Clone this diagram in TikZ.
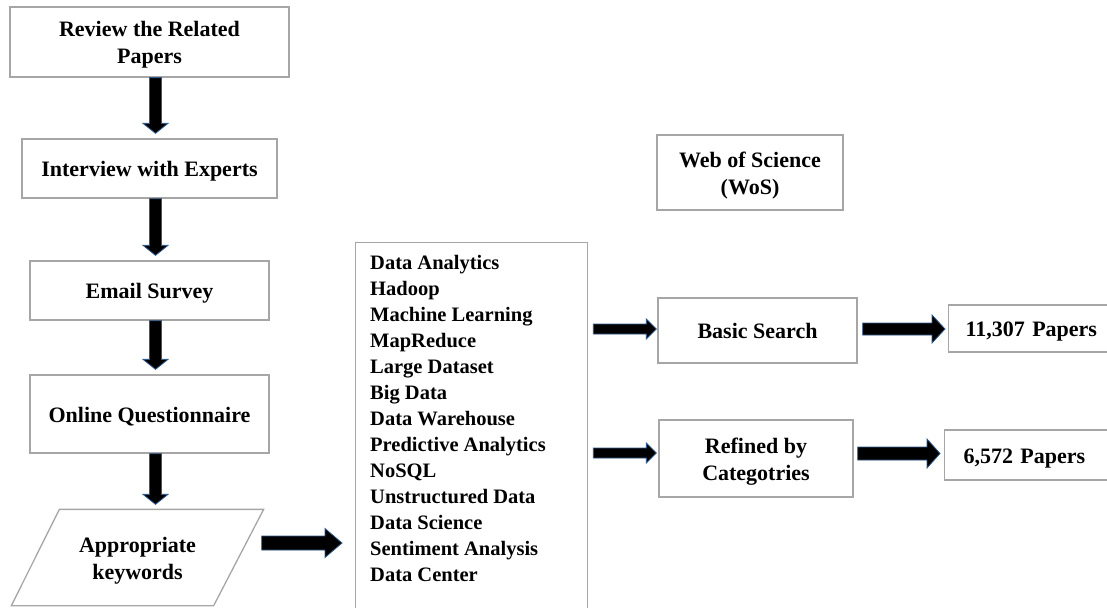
\documentclass[tikz,border=0pt]{standalone}
\usepackage{fontspec}
\setmainfont{Liberation Serif}
\usetikzlibrary{calc}
\definecolor{boxgray}{HTML}{A6A6A6}
\definecolor{arrblue}{HTML}{2E5A8C}
\newcommand\twoln[2]{\rule{0pt}{21.5pt}#1\\#2\rule[-5pt]{0pt}{0pt}}
\newcommand\oneln[1]{\rule[-5pt]{0pt}{26.5pt}#1}
\tikzset{
  box/.style={draw=boxgray, line width=1.3pt, fill=white, align=center, inner sep=0pt,
    font=\fontsize{22}{27}\selectfont\bfseries},
  fat/.style={fill=black, draw=arrblue, line width=0.8pt, line join=miter},
  kwtext/.style={align=left, inner sep=0pt, font=\fontsize{20.5}{26}\selectfont\bfseries},
}
% vertical fat arrow: from node #1 (south) to node #2 (north)
\newcommand\vfat[2]{%
  \coordinate (s) at ($(#1.south)+(6,0)$);
  \coordinate (t) at ($(#1.south |- #2.north)+(6,-5)$);
  \draw[fat] ($(s)+(-6,0)$) -- ($(t)+(-6,-10)$) -- ($(t)+(-12.5,-10)$) -- (t)
    -- ($(t)+(12.5,-10)$) -- ($(t)+(6,-10)$) -- ($(s)+(6,0)$) -- cycle;}
% horizontal fat arrow: start #1, tip #2, shaft half #3, head half #4, head length #5
\newcommand\hfat[5]{%
  \coordinate (s) at (#1);
  \coordinate (t) at (#2);
  \draw[fat] ($(s)+(0,-#3)$) -- ($(t)+(-#5,-#3)$) -- ($(t)+(-#5,-#4)$) -- (t)
    -- ($(t)+(-#5,#4)$) -- ($(t)+(-#5,#3)$) -- ($(s)+(0,#3)$) -- cycle;}
\begin{document}
\begin{tikzpicture}[x=1pt, y=-1pt]
\useasboundingbox (0,0) rectangle (1107,607);

% left column
\node[box, minimum width=279, minimum height=70] (rev) at (149.5,42) {\twoln{Review the Related}{Papers}};
\node[box, minimum width=255, minimum height=59] (int) at (149.5,168.5) {\oneln{Interview with Experts}};
\node[box, minimum width=239, minimum height=59] (email) at (149.5,290.5) {\oneln{Email Survey}};
\node[box, minimum width=239, minimum height=78] (online) at (149.5,414) {\oneln{Online Questionnaire}};
\node[box, draw=none, fill=none, minimum width=251, minimum height=95] (kw) at (137.5,557.5) {\twoln{Appropriate}{keywords}};
\draw[draw=boxgray, line width=1.3pt] ($(kw.north west)+(48,0)$) -- (kw.north east)
  -- ($(kw.south east)+(-50,0)$) -- (kw.south west) -- cycle;

% keyword list
\node[draw=boxgray, line width=1.3pt, anchor=north west, minimum width=232, minimum height=400, inner sep=0pt] (list) at (355,242) {};
\node[kwtext, anchor=north west] (kwl) at (370,255.5) {Data Analytics\\Hadoop\\Machine Learning\\MapReduce\\Large Dataset\\Big Data\\Data Warehouse\\Predictive Analytics\\NoSQL\\Unstructured Data\\Data Science\\Sentiment Analysis\\Data Center};

% right part
\node[box, minimum width=186, minimum height=75] (wos) at (750,172.5) {\twoln{Web of Science}{(WoS)}};
\node[box, minimum width=199, minimum height=65] (basic) at (757.5,330.5) {\oneln{Basic Search}};
\node[box, minimum width=194, minimum height=77] (refined) at (756,458.5) {\twoln{Refined by}{Categotries}};
\node[box, anchor=west, align=left, text width=170, inner xsep=17, minimum height=47] (p1) at (948,328.5) {\oneln{11,307 Papers}};
\node[box, anchor=west, align=left, text width=170, inner xsep=19, minimum height=50] (p2) at (944,455) {\oneln{6,572 Papers}};

% arrows
\vfat{rev}{int}
\vfat{int}{email}
\vfat{email}{online}
\vfat{online}{kw}
\hfat{$(kw.east)+(-2,-14.5)$}{$(list.west |- kw.east)+(-13,-14.5)$}{7}{14.5}{17}
\hfat{$(list.east |- basic.west)+(5,-1.5)$}{$(basic.west)+(-1,-1.5)$}{5}{10}{10}
\hfat{$(list.east |- refined.west)+(5,-5.5)$}{$(refined.west)+(-2,-5.5)$}{5}{10}{10}
\hfat{$(basic.east)+(5,-1.5)$}{$(p1.west |- basic.east)+(-3,-1.5)$}{6}{14}{13}
\hfat{$(refined.east)+(4,-5)$}{$(p2.west |- refined.east)+(-4,-5)$}{6.5}{14.5}{13}
\end{tikzpicture}
\end{document}
